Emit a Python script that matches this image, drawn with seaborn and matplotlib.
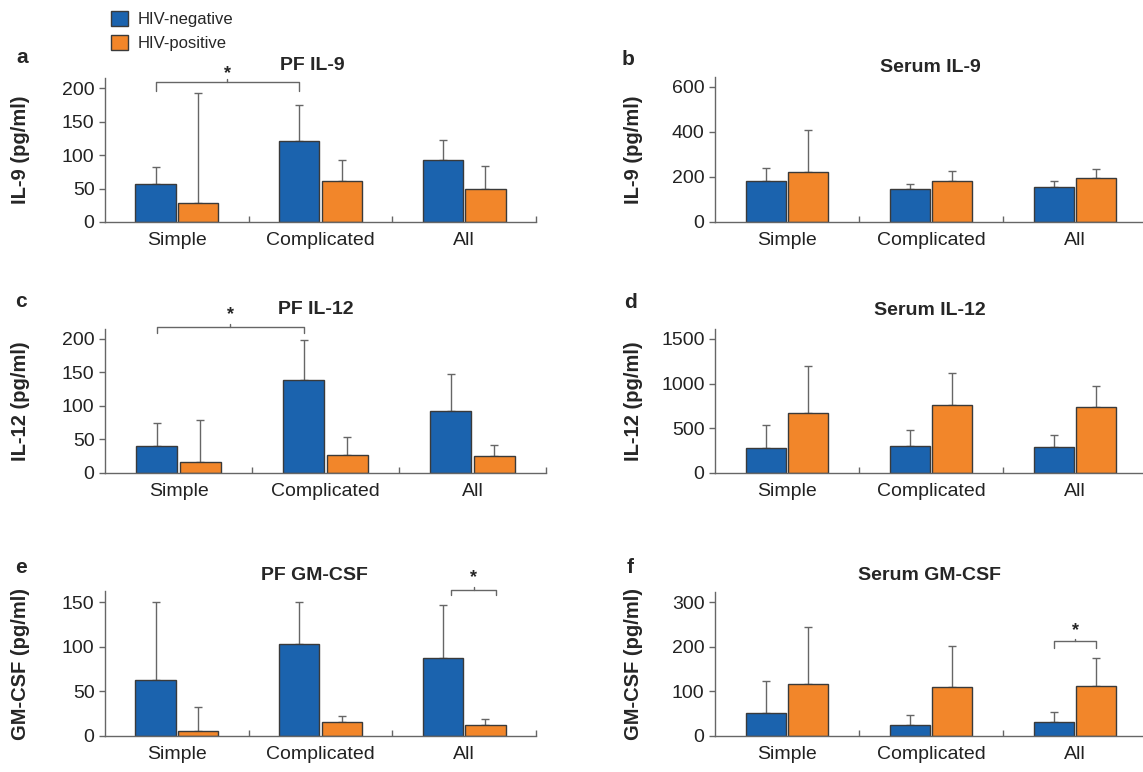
import pandas as pd
import matplotlib.pyplot as plt
import seaborn as sns
from matplotlib.patches import Patch

categories = ["Simple", "Complicated", "All"]
groups = ["HIV-negative", "HIV-positive"]

# mean and upper SD for each panel (neg, pos)
pf_il9_neg = [56, 121, 92]
pf_il9_neg_sd = [26, 53, 31]
pf_il9_pos = [29, 61, 50]
pf_il9_pos_sd = [164, 31, 33]

ser_il9_neg = [181, 145, 156]
ser_il9_neg_sd = [60, 24, 25]
ser_il9_pos = [221, 181, 193]
ser_il9_pos_sd = [186, 44, 44]

pf_il12_neg = [40, 138, 93]
pf_il12_neg_sd = [35, 60, 55]
pf_il12_pos = [17, 27, 25]
pf_il12_pos_sd = [62, 26, 17]

ser_il12_neg = [281, 303, 292]
ser_il12_neg_sd = [254, 172, 134]
ser_il12_pos = [673, 756, 737]
ser_il12_pos_sd = [520, 363, 236]

pf_gm_neg = [63, 103, 87]
pf_gm_neg_sd = [87, 47, 60]
pf_gm_pos = [6, 16, 12]
pf_gm_pos_sd = [26, 7, 7]

ser_gm_neg = [51, 25, 32]
ser_gm_neg_sd = [73, 21, 22]
ser_gm_pos = [116, 110, 112]
ser_gm_pos_sd = [129, 92, 63]

blue = "#1b63ae"
orange = "#f2862a"
grey = "#666666"

sns.set_style("ticks")
plt.rcParams["font.family"] = ["Liberation Sans", "DejaVu Sans"]

W, H = 1143, 772
fig = plt.figure(figsize=(W / 100, H / 100), dpi=100)


def add_ax(left, right, top, bottom):
    return fig.add_axes([left / W, 1 - bottom / H, (right - left) / W, (bottom - top) / H])


# letter, title, ylabel, data..., yticks, ytop, axes box px, letter pos px, title x px, ylabel x px
panels = [
    ("a", "PF IL-9", "IL-9 (pg/ml)", pf_il9_neg, pf_il9_neg_sd, pf_il9_pos, pf_il9_pos_sd,
     [0, 50, 100, 150, 200], 215, (105, 536, 78, 222), (16, 63), 312, 30),
    ("b", "Serum IL-9", "IL-9 (pg/ml)", ser_il9_neg, ser_il9_neg_sd, ser_il9_pos, ser_il9_pos_sd,
     [0, 200, 400, 600], 643, (715, 1147, 77, 222), (622, 65), 930, 643),
    ("c", "PF IL-12", "IL-12 (pg/ml)", pf_il12_neg, pf_il12_neg_sd, pf_il12_pos, pf_il12_pos_sd,
     [0, 50, 100, 150, 200], 214.5, (105, 546, 329, 473), (15, 307), 316, 30),
    ("d", "Serum IL-12", "IL-12 (pg/ml)", ser_il12_neg, ser_il12_neg_sd, ser_il12_pos, ser_il12_pos_sd,
     [0, 500, 1000, 1500], 1609, (715, 1147, 329, 473), (624, 308), 930, 643),
    ("e", "PF GM-CSF", "GM-CSF (pg/ml)", pf_gm_neg, pf_gm_neg_sd, pf_gm_pos, pf_gm_pos_sd,
     [0, 50, 100, 150], 162.7, (105, 536, 591, 736), (15, 573), 314, 30),
    ("f", "Serum GM-CSF", "GM-CSF (pg/ml)", ser_gm_neg, ser_gm_neg_sd, ser_gm_pos, ser_gm_pos_sd,
     [0, 100, 200, 300], 323, (715, 1147, 592, 736), (627, 573), 930, 643),
]

axes = {}
for letter, title, ylab, neg, neg_sd, pos, pos_sd, yt, ytop, box, lpos, tx, ylx in panels:
    ax = add_ax(*box)
    axes[letter] = ax
    df = pd.DataFrame({
        "cat": categories * 2,
        "grp": [groups[0]] * 3 + [groups[1]] * 3,
        "val": neg + pos,
    })
    sns.barplot(data=df, x="cat", y="val", hue="grp", order=categories, hue_order=groups,
                palette=[blue, orange], saturation=1, errorbar=None, width=0.592, gap=0.054,
                edgecolor="#3a3a3a", linewidth=1, legend=False, ax=ax, zorder=2)
    for cont, sds in zip(ax.containers, [neg_sd, pos_sd]):
        for bar, sd in zip(cont, sds):
            xc = bar.get_x() + bar.get_width() / 2
            ax.errorbar(xc, bar.get_height(), yerr=[[0], [sd]], color=grey, lw=1,
                        capsize=2.9, capthick=1, clip_on=False, zorder=1)
    ax.set_xlim(-0.5, 2.5)
    ax.set_ylim(0, ytop)
    ax.set_yticks(yt)
    ax.set_xlabel("")
    ax.set_ylabel(ylab, fontsize=14.5, fontweight="bold")
    ax.yaxis.set_label_coords((ylx - box[0]) / (box[1] - box[0]), 0.5)
    ax.set_xticks([0.5, 1.5, 2.5], minor=True)
    ax.tick_params(axis="x", which="major", length=0, pad=7, labelsize=14, colors="#222222")
    ax.tick_params(axis="x", which="minor", direction="in", length=4, width=1, color=grey)
    ax.tick_params(axis="y", length=4.5, width=1, pad=3, labelsize=14, color=grey, labelcolor="#222222")
    sns.despine(ax=ax)
    for s in ["left", "bottom"]:
        ax.spines[s].set_color(grey)
        ax.spines[s].set_linewidth(1)
    fig.text(lpos[0] / W, 1 - lpos[1] / H, letter, fontsize=15, fontweight="bold", va="baseline")
    fig.text(tx / W, 1 - (lpos[1] + 7) / H, title, fontsize=14, fontweight="bold",
             ha="center", va="baseline")


def bracket(ax, x0, x1, y, ydrop, ystar, tick):
    ax.plot([x0, x0, x1, x1], [ydrop, y, y, ydrop], color=grey, lw=1, clip_on=False)
    xm = (x0 + x1) / 2
    ax.plot([xm, xm], [y, y + tick], color=grey, lw=1, clip_on=False)
    ax.text(xm, ystar, "*", ha="center", va="center", fontsize=13, fontweight="bold", clip_on=False)


bracket(axes["a"], -0.148, 0.852, 209, 196, 222, 4)
bracket(axes["c"], -0.148, 0.852, 218, 209, 236, 4)
bracket(axes["e"], 1.91, 2.22, 164, 158, 178, 3)
bracket(axes["f"], 1.852, 2.148, 212, 198.5, 236, 6)

handles = [Patch(facecolor=blue, edgecolor="#3a3a3a", lw=1), Patch(facecolor=orange, edgecolor="#3a3a3a", lw=1)]
fig.legend(handles, groups, loc="upper left", bbox_to_anchor=(111 / W, 1 - 11 / H), frameon=False,
           fontsize=12, handlelength=1.0, handleheight=1.0, handletextpad=0.6, labelspacing=0.45,
           borderpad=0, borderaxespad=0)

fig.savefig("out.png", dpi=100)
